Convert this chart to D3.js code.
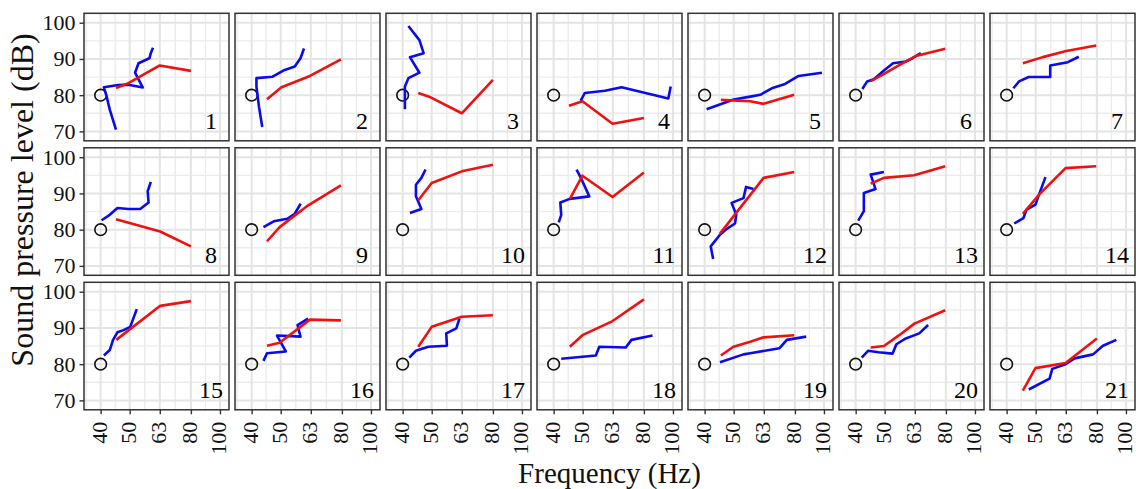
<!DOCTYPE html>
<html><head><meta charset="utf-8">
<script src="https://cdn.jsdelivr.net/npm/d3@7"></script>
<style>
body{margin:0;background:#fff;}
svg{display:block;font-family:"Liberation Serif","Times New Roman",serif;}
</style></head><body>
<svg id="chart" width="1136" height="489"></svg>
<script>
// ---------- data ----------
const panelIds = d3.range(1, 22);
const xTicks = [40, 50, 63, 80, 100];
const yTicks = [70, 80, 90, 100];
const yMinor = [75, 85, 95];
const refPoint = [40, 80];

const blueLines = [
  [[45.0,70.5],[42.9,76],[41.9,79.6],[41.0,82.2],[45.8,82.8],[49.5,82.9],[55.3,82.1],[52.1,86.2],[53.5,88.8],[58.2,90.2],[58.8,91.6],[59.8,93.1]],
  [[43.4,71.2],[42.3,76.9],[41.5,82.4],[41.5,84.7],[47.0,85.1],[51.0,86.8],[55.7,87.9],[58.2,90.2],[59.8,92.9]],
  [[40.7,76.1],[40.7,82.4],[41.8,84.7],[45.5,86.2],[42.3,90.5],[47.0,91.6],[45.5,95.2],[41.8,99.1]],
  [[49.2,78.4],[50.8,80.6],[59.3,81.2],[67.4,82.2],[96.5,79.1],[98.3,82.4]],
  [[40.6,76.1],[50,78.8],[56.8,79.6],[61.3,80.1],[67,81.9],[74.2,83.1],[82.3,85.3],[98.5,86.2]],
  [[42.1,81.7],[43.7,83.8],[46.0,84.4],[49.7,86.8],[53.3,88.8],[58.8,89.3],[61.9,90.2],[66.0,91.6]],
  [[42.1,81.9],[44.0,83.8],[47.4,85.0],[55.9,85.0],[55.9,88.2],[64.0,89.1],[69.6,90.6]],
  [[40.3,82.6],[42.9,84.1],[45.5,86.0],[49.5,85.7],[54.2,85.7],[57.8,87.5],[57.4,90.6],[58.8,93.2]],
  [[43.8,80.7],[47.4,82.3],[52.6,83.0],[55.7,84.4],[58.3,87.2]],
  [[42.3,84.6],[46.2,85.7],[44.3,89.2],[44.3,92.4],[46.2,94.3],[47.7,96.6]],
  [[41.6,82.0],[42.4,84.1],[42.1,87.5],[45.3,88.5],[52.6,89.2],[49.5,94.0],[47.7,96.6]],
  [[42.7,71.9],[41.9,75.4],[45.0,78.6],[47.0,80.0],[50.5,81.7],[51.0,84.1],[49.2,87.4],[53.9,88.7],[55.0,91.8],[58.2,91.2]],
  [[40.8,82.5],[42.6,85.1],[42.6,90.1],[46.6,91.2],[44.9,95.2],[49.7,95.9]],
  [[42.4,81.7],[45.5,83.2],[46.6,85.5],[49.9,86.9],[51.5,90.1],[53.9,94.5]],
  [[41.0,82.4],[42.9,83.9],[44.0,86.7],[45.5,88.8],[47.7,89.4],[50.2,90.3],[52.8,95.2]],
  [[43.8,80.9],[45.0,83.0],[49.0,83.3],[52.0,83.5],[48.6,87.9],[58.2,87.6],[56.9,90.8],[61.7,92.6]],
  [[42.1,81.8],[44.3,83.7],[48.7,84.8],[56.2,85.1],[55.9,88.5],[60.4,89.9],[61.9,92.6]],
  [[42.4,81.5],[55.3,82.4],[56.8,84.8],[69.6,84.6],[72.7,86.7],[85.5,87.9]],
  [[45.0,80.5],[53.9,82.7],[56.8,83.0],[71.1,84.4],[75.2,86.7],[87.3,87.6]],
  [[41.9,81.8],[44.0,83.7],[47.7,83.3],[53.1,82.9],[54.7,85.5],[58.8,87.1],[65.2,88.5],[69.8,90.8]],
  [[47.4,73.0],[55.6,76.0],[56.8,78.7],[62.9,80.0],[67.4,81.6],[77.7,82.7],[83.8,85.1],[92.9,86.7]]
];

const redLines = [
  [[45.0,82.0],[49.5,83.3],[63,88.2],[80,86.7]],
  [[45.0,78.9],[50.3,82.2],[62.6,85.3],[79.4,89.9]],
  [[45.1,80.6],[49.6,79.4],[63.0,75.0],[80,84.2]],
  [[45.0,77.1],[49.9,78.3],[62.9,72.1],[80,73.7]],
  [[45.3,78.7],[56.7,78.3],[62.9,77.6],[79.6,80.1]],
  [[44.9,83.9],[49.1,85.6],[55.9,88.3],[63.5,90.8],[79.6,92.8]],
  [[45.3,88.8],[52.8,90.5],[63.2,92.2],[79.6,93.7]],
  [[45.0,82.9],[63.2,79.5],[80,75.4]],
  [[45.0,76.8],[49.6,80.7],[61.0,86.4],[79.4,92.2]],
  [[45.1,88.1],[50.0,92.9],[63.0,96.1],[80,97.9]],
  [[45.3,88.5],[49.9,94.9],[62.9,89.0],[80,95.8]],
  [[45.0,78.9],[62.9,94.3],[79.6,95.9]],
  [[44.9,92.7],[49.7,94.3],[62.7,95.0],[79.6,97.5]],
  [[45.3,84.4],[51.5,89.8],[62.9,97.0],[79.6,97.5]],
  [[45.1,86.7],[63.2,96.1],[80,97.4]],
  [[45.0,85.1],[49.6,85.9],[62.6,92.3],[79.4,92.1]],
  [[45.1,84.8],[50.0,90.3],[63.0,93.1],[80,93.5]],
  [[45.3,84.8],[49.9,88.0],[62.9,91.9],[80,97.9]],
  [[45.3,82.4],[49.9,84.8],[56.8,86.2],[62.9,87.4],[79.6,88.0]],
  [[44.9,84.6],[49.7,85.0],[55.9,88.0],[62.8,91.2],[79.6,94.9]],
  [[45.3,72.7],[49.9,78.9],[62.9,80.3],[80,87.1]]
];

// ---------- layout ----------
const plotLeft = 84, plotTop = 13.3, pw = 145, ph = 127.5, colStep = 151, rowStep = 134.5;
const nCols = 7, nRows = 3;

const x = d3.scaleLog().domain([35.2, 107.2]).range([0, pw]);
const y = d3.scaleLinear().domain([67.4, 102.6]).range([ph, 0]);

// minor x breaks at log-midpoints (incl. one below first tick)
const xMinor = [];
for (let i = 0; i < xTicks.length - 1; i++) xMinor.push(Math.sqrt(xTicks[i] * xTicks[i + 1]));
xMinor.unshift(xTicks[0] / Math.sqrt(xTicks[1] / xTicks[0]));

const svg = d3.select("#chart");
const line = d3.line().x(d => x(d[0])).y(d => y(d[1]));

panelIds.forEach((id, i) => {
  const c = i % nCols, r = Math.floor(i / nCols);
  const g = svg.append("g").attr("transform", `translate(${plotLeft + c * colStep},${plotTop + r * rowStep})`);

  g.append("rect").attr("width", pw).attr("height", ph).attr("fill", "#fff");

  // grid
  g.selectAll(".ymin").data(yMinor).join("line")
    .attr("x1", 0).attr("x2", pw).attr("y1", d => y(d)).attr("y2", d => y(d))
    .attr("stroke", "#ebebeb").attr("stroke-width", 1.3);
  g.selectAll(".xmin").data(xMinor.filter(v => x(v) > 0 && x(v) < pw)).join("line")
    .attr("y1", 0).attr("y2", ph).attr("x1", d => x(d)).attr("x2", d => x(d))
    .attr("stroke", "#ebebeb").attr("stroke-width", 1.3);
  g.selectAll(".ymaj").data(yTicks).join("line")
    .attr("x1", 0).attr("x2", pw).attr("y1", d => y(d)).attr("y2", d => y(d))
    .attr("stroke", "#e4e4e4").attr("stroke-width", 2);
  g.selectAll(".xmaj").data(xTicks).join("line")
    .attr("y1", 0).attr("y2", ph).attr("x1", d => x(d)).attr("x2", d => x(d))
    .attr("stroke", "#e4e4e4").attr("stroke-width", 2);

  // reference circle
  g.append("circle").attr("cx", x(refPoint[0])).attr("cy", y(refPoint[1])).attr("r", 5.8)
    .attr("fill", "none").attr("stroke", "#111").attr("stroke-width", 1.6);

  // series
  g.append("path").datum(blueLines[i]).attr("d", line)
    .attr("fill", "none").attr("stroke", "#0a0af0").attr("stroke-width", 2.6).attr("stroke-linejoin", "round");
  g.append("path").datum(redLines[i]).attr("d", line)
    .attr("fill", "none").attr("stroke", "#f01010").attr("stroke-width", 2.6).attr("stroke-linejoin", "round");

  // panel number
  g.append("text").attr("x", pw - 18).attr("y", ph - 12).attr("text-anchor", "middle")
    .attr("font-size", 24).attr("fill", "#000").text(id);

  // border
  g.append("rect").attr("width", pw).attr("height", ph).attr("fill", "none")
    .attr("stroke", "#333").attr("stroke-width", 1.5);

  // axes
  if (c === 0) {
    const ax = g.append("g").call(d3.axisLeft(y).tickValues(yTicks).tickSize(4.5).tickPadding(4).tickFormat(d3.format("d")));
    ax.select(".domain").remove();
    ax.selectAll("line").attr("stroke", "#333").attr("stroke-width", 1.4);
    ax.selectAll("text").attr("font-size", 22).attr("fill", "#111").attr("font-family", "Liberation Serif");
  }
  if (r === nRows - 1) {
    const ax = g.append("g").attr("transform", `translate(0,${ph})`)
      .call(d3.axisBottom(x).tickValues(xTicks).tickSize(4.5).tickFormat(d3.format("d")));
    ax.select(".domain").remove();
    ax.selectAll("line").attr("stroke", "#333").attr("stroke-width", 1.4);
    ax.selectAll("text").attr("font-size", 22).attr("fill", "#111").attr("font-family", "Liberation Serif")
      .attr("transform", "rotate(-90)").attr("text-anchor", "end")
      .attr("x", -12).attr("y", 0).attr("dy", "0.26em");
  }
});

// titles
const plotCx = plotLeft + ((nCols - 1) * colStep + pw) / 2;
svg.append("text").attr("x", plotCx).attr("y", 483).attr("text-anchor", "middle")
  .attr("font-size", 29).attr("fill", "#111").text("Frequency (Hz)");
svg.append("text").attr("transform", `translate(33,200) rotate(-90)`).attr("text-anchor", "middle")
  .attr("font-size", 32).attr("fill", "#111").text("Sound pressure level (dB)");
</script>
</body></html>
